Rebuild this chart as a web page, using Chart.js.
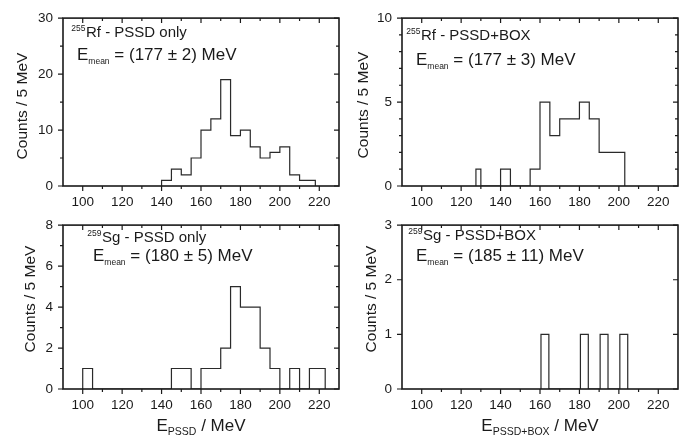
<!DOCTYPE html>
<html>
<head>
<meta charset="utf-8">
<script src="https://cdn.jsdelivr.net/npm/chart.js@4.4.0/dist/chart.umd.min.js"></script>
<style>
  body { margin: 0; background: #fff; }
  #wrap { position: relative; width: 692px; height: 439px; }
  canvas { position: absolute; }
</style>
</head>
<body>
<div id="wrap">
  <canvas id="c1" width="346" height="207" style="left:0;top:0"></canvas>
  <canvas id="c2" width="346" height="207" style="left:346px;top:0"></canvas>
  <canvas id="c3" width="346" height="232" style="left:0;top:207px"></canvas>
  <canvas id="c4" width="346" height="232" style="left:346px;top:207px"></canvas>
</div>
<script>
// x axis (MeV)
const xTicks = [100, 120, 140, 160, 180, 200, 220];
const xMinor = [110, 130, 150, 170, 190, 210];

// 255Rf - PSSD only
const rfPssdEdges = [140, 145, 150, 155, 160, 165, 170, 175, 180, 185, 190, 195, 200, 205, 210, 218];
const rfPssdCounts = [1, 3, 2, 5, 10, 12, 19, 9, 10, 7, 5, 6, 7, 2, 1];
const rfPssdY = [0, 10, 20, 30];
const rfPssdYMinor = [5, 15, 25];

// 255Rf - PSSD+BOX
const rfBoxEdges = [127.5, 130, 140, 145, 155, 160, 165, 170, 180, 185, 190, 203];
const rfBoxCounts = [1, 0, 1, 0, 1, 5, 3, 4, 5, 4, 2];
const rfBoxY = [0, 5, 10];
const rfBoxYMinor = [1, 2, 3, 4, 6, 7, 8, 9];

// 259Sg - PSSD only
const sgPssdEdges = [100, 105, 145, 155, 160, 170, 175, 180, 190, 195, 200, 205, 210, 215, 223];
const sgPssdCounts = [1, 0, 1, 0, 1, 2, 5, 4, 2, 1, 0, 1, 0, 1];
const sgPssdY = [0, 2, 4, 6, 8];
const sgPssdYMinor = [1, 3, 5, 7];

// 259Sg - PSSD+BOX
const sgBoxEdges = [160.5, 164.5, 180.5, 184.5, 190.5, 194.5, 200.5, 204.5];
const sgBoxCounts = [1, 0, 1, 0, 1, 0, 1];
const sgBoxY = [0, 1, 2, 3];
const sgBoxYMinor = [];

const FONT = '"Liberation Sans", Arial, sans-serif';
const INK = '#1a1a1a';

// outline of a histogram: rise at the first edge, flat tops, drop at the last edge
function histPoints(edges, counts) {
    const pts = [{ x: edges[0], y: 0 }];
    counts.forEach((c, i) => pts.push({ x: edges[i], y: c }));
    pts.push({ x: edges[edges.length - 1], y: 0 });
    return pts;
}

// draw text made of runs of different size / vertical shift
function drawRuns(ctx, x, y, runs) {
    runs.forEach(r => {
        ctx.font = r.size + 'px ' + FONT;
        ctx.fillText(r.text, x, y + (r.dy || 0));
        x += ctx.measureText(r.text).width;
    });
}
function runsWidth(ctx, runs) {
    let w = 0;
    runs.forEach(r => {
        ctx.font = r.size + 'px ' + FONT;
        w += ctx.measureText(r.text).width;
    });
    return w;
}

function framePlugin(p) {
    return {
        id: 'frame',
        afterDraw(chart) {
            const { ctx, chartArea: a } = chart;
            const x = chart.scales.x, y = chart.scales.y;
            ctx.save();
            ctx.strokeStyle = INK;
            ctx.lineWidth = 1.6;
            ctx.strokeRect(a.left, a.top, a.right - a.left, a.bottom - a.top);

            ctx.lineWidth = 1.2;
            ctx.beginPath();
            const tickX = (v, len) => {
                const px = x.getPixelForValue(v);
                ctx.moveTo(px, a.bottom); ctx.lineTo(px, a.bottom + len);
                ctx.moveTo(px, a.top); ctx.lineTo(px, a.top + len);
            };
            xTicks.forEach(v => tickX(v, 5));
            xMinor.forEach(v => tickX(v, 3));
            const tickY = (v, len) => {
                const py = y.getPixelForValue(v);
                ctx.moveTo(a.left - len, py); ctx.lineTo(a.left, py);
                ctx.moveTo(a.right - len, py); ctx.lineTo(a.right, py);
            };
            p.yMajor.forEach(v => tickY(v, 5));
            p.yMinor.forEach(v => tickY(v, 3));
            ctx.stroke();

            ctx.fillStyle = INK;
            ctx.textBaseline = 'alphabetic';
            ctx.textAlign = 'left';

            // inset label: small mass number just before the element name
            ctx.font = '8.5px ' + FONT;
            const supW = ctx.measureText(p.iso).width;
            ctx.fillText(p.iso, p.mainX - supW - 0.5, p.line1 - 6);
            ctx.font = '15px ' + FONT;
            ctx.fillText(p.name, p.mainX, p.line1);
            drawRuns(ctx, p.eX, p.line2, [
                { text: 'E', size: 17 },
                { text: 'mean', size: 8.5, dy: 4 },
                { text: ' = ' + p.mean, size: 17 }
            ]);

            // y title
            ctx.save();
            ctx.translate(p.yTitleX, p.yTitleY);
            ctx.rotate(-Math.PI / 2);
            ctx.font = '15.5px ' + FONT;
            ctx.textAlign = 'center';
            ctx.textBaseline = 'middle';
            ctx.fillText('Counts / 5 MeV', 0, 0);
            ctx.restore();

            // x title (bottom row only)
            if (p.xSub) {
                const runs = [
                    { text: 'E', size: 17 },
                    { text: p.xSub, size: 10.5, dy: 4 },
                    { text: ' / MeV', size: 17 }
                ];
                const w = runsWidth(ctx, runs);
                drawRuns(ctx, (a.left + a.right) / 2 - w / 2, p.xTitleY, runs);
            }
            ctx.restore();
        }
    };
}

function makePanel(p) {
    const tickFont = { family: FONT, size: 13.5 };
    return new Chart(document.getElementById(p.id), {
        type: 'line',
        data: {
            datasets: [{
                data: histPoints(p.edges, p.counts),
                stepped: 'before',
                borderColor: '#2a2a2a',
                borderWidth: 1.2,
                pointRadius: 0,
                fill: false
            }]
        },
        options: {
            responsive: false,
            animation: false,
            layout: { padding: { top: p.padTop, right: p.padRight, left: 0, bottom: 0 } },
            plugins: { legend: { display: false }, tooltip: { enabled: false } },
            scales: {
                x: {
                    type: 'linear', min: 90, max: 230,
                    afterBuildTicks: s => { s.ticks = xTicks.map(v => ({ value: v })); },
                    afterFit: s => { s.height = p.xH; },
                    grid: { display: false, drawTicks: false },
                    border: { display: false },
                    ticks: { font: tickFont, color: INK, padding: 8, maxRotation: 0, autoSkip: false }
                },
                y: {
                    type: 'linear', min: 0, max: p.yMax,
                    afterBuildTicks: s => { s.ticks = p.yMajor.map(v => ({ value: v })); },
                    afterFit: s => { s.width = p.yW; },
                    grid: { display: false, drawTicks: false },
                    border: { display: false },
                    ticks: { font: tickFont, color: INK, padding: 10 }
                }
            }
        },
        plugins: [framePlugin(p)]
    });
}

makePanel({
    id: 'c1', edges: rfPssdEdges, counts: rfPssdCounts, yMax: 30, yMajor: rfPssdY, yMinor: rfPssdYMinor,
    padTop: 13, padRight: 7, yW: 63, xH: 21,
    iso: '255', name: 'Rf - PSSD only', mean: '(177 \u00b1 2) MeV',
    mainX: 86, line1: 37, eX: 77, line2: 60,
    yTitleX: 23, yTitleY: 106
});
makePanel({
    id: 'c2', edges: rfBoxEdges, counts: rfBoxCounts, yMax: 10, yMajor: rfBoxY, yMinor: rfBoxYMinor,
    padTop: 13, padRight: 14, yW: 56, xH: 21,
    iso: '255', name: 'Rf - PSSD+BOX', mean: '(177 \u00b1 3) MeV',
    mainX: 75, line1: 40, eX: 70, line2: 65,
    yTitleX: 18, yTitleY: 105
});
makePanel({
    id: 'c3', edges: sgPssdEdges, counts: sgPssdCounts, yMax: 8, yMajor: sgPssdY, yMinor: sgPssdYMinor,
    padTop: 7, padRight: 7, yW: 63, xH: 50,
    iso: '259', name: 'Sg - PSSD only', mean: '(180 \u00b1 5) MeV',
    mainX: 102, line1: 35, eX: 93, line2: 54,
    yTitleX: 31, yTitleY: 92, xSub: 'PSSD', xTitleY: 224
});
makePanel({
    id: 'c4', edges: sgBoxEdges, counts: sgBoxCounts, yMax: 3, yMajor: sgBoxY, yMinor: sgBoxYMinor,
    padTop: 7, padRight: 14, yW: 56, xH: 50,
    iso: '259', name: 'Sg - PSSD+BOX', mean: '(185 \u00b1 11) MeV',
    mainX: 77, line1: 33, eX: 70, line2: 54,
    yTitleX: 26, yTitleY: 92, xSub: 'PSSD+BOX', xTitleY: 224
});
</script>
</body>
</html>
